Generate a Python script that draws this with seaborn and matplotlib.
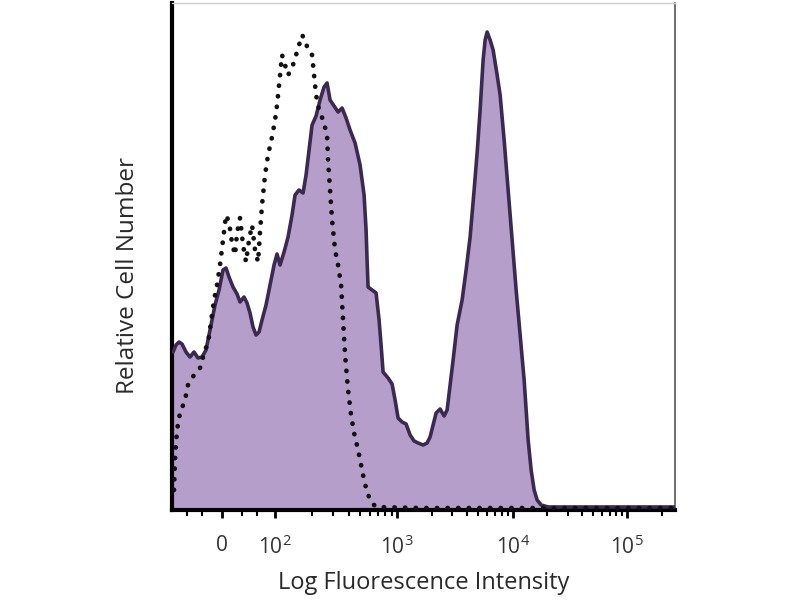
# %% Imports
import numpy as np
import pandas as pd
import matplotlib
matplotlib.use("Agg")
import matplotlib.pyplot as plt
import seaborn as sns

# %% data: histogram, x in display channels (0-1006), y in counts
stained_channel = [2, 8, 14, 20, 28, 36, 44, 52, 60, 68,
                   74, 80, 86, 94, 102, 108, 114, 122, 130, 136,
                   144, 150, 156, 162, 168, 174, 180, 188, 196, 204,
                   210, 216, 224, 232, 240, 246, 254, 262, 268, 274,
                   280, 288, 296, 304, 310, 316, 324, 332, 340, 348,
                   356, 366, 376, 384, 388, 390, 392, 400, 408, 414,
                   418, 422, 432, 440, 446, 452, 460, 468, 476, 484,
                   492, 502, 510, 516, 522, 528, 536, 544, 550, 556,
                   562, 570, 580, 588, 596, 604, 610, 616, 622, 626,
                   630, 636, 642, 650, 656, 664, 672, 680, 688, 696,
                   704, 712, 718, 724, 730, 738, 752, 856, 1004]
stained_count = [158, 165, 168, 166, 158, 153, 158, 152, 153, 160,
                 175, 190, 205, 220, 240, 242, 233, 223, 216, 208,
                 213, 207, 197, 183, 175, 178, 190, 205, 225, 245,
                 256, 245, 258, 273, 295, 315, 320, 317, 335, 360,
                 385, 394, 410, 423, 427, 410, 404, 398, 402, 392,
                 380, 367, 345, 315, 280, 250, 223, 220, 217, 190,
                 165, 138, 132, 126, 110, 92, 88, 86, 75, 69,
                 67, 65, 67, 73, 85, 97, 101, 94, 100, 125,
                 150, 185, 210, 240, 273, 320, 357, 400, 450, 470,
                 478, 470, 460, 435, 415, 370, 320, 270, 220, 175,
                 130, 70, 40, 20, 10, 5, 3, 3, 3]

control_channel = [4, 6, 10, 16, 26, 32, 44, 56, 66, 72,
                   78, 84, 90, 96, 102, 108, 114, 120, 126, 130,
                   136, 142, 148, 154, 160, 166, 172, 176, 180, 186,
                   192, 200, 206, 210, 214, 220, 226, 232, 240, 248,
                   254, 260, 266, 272, 280, 284, 288, 294, 302, 310,
                   312, 316, 320, 326, 332, 338, 342, 346, 352, 358,
                   364, 372, 378, 384, 390, 398, 408, 496, 1004]
control_count = [20, 50, 80, 97, 110, 125, 135, 142, 160, 167,
                 188, 210, 225, 245, 270, 295, 288, 267, 255, 277,
                 292, 265, 248, 270, 285, 260, 248, 278, 305, 335,
                 355, 373, 390, 405, 425, 455, 445, 435, 442, 455,
                 465, 475, 470, 460, 455, 435, 415, 400, 390, 375,
                 350, 320, 290, 260, 245, 225, 190, 155, 120, 95,
                 77, 60, 45, 30, 18, 8, 3, 2, 2]

tick_labels = ["0", "$10^2$", "$10^3$", "$10^4$", "$10^5$"]
tick_channels = [100, 206, 450, 682, 910]

stained = pd.DataFrame({"channel": stained_channel, "count": stained_count})
control = pd.DataFrame({"channel": control_channel, "count": control_count})

# %% plot
sns.set_theme(style="white")
plt.rcParams["font.family"] = ["Open Sans", "DejaVu Sans"]
plt.rcParams["mathtext.fontset"] = "custom"
plt.rcParams["mathtext.rm"] = "Open Sans"
plt.rcParams["mathtext.it"] = "Open Sans"

fig = plt.figure(figsize=(8, 6), dpi=100)
ax = fig.add_axes([0.215, 0.15, 0.629, 0.845])

ax.fill_between(stained["channel"], stained["count"], color="#b59ec9", lw=0, zorder=1)
sns.lineplot(data=stained, x="channel", y="count", ax=ax, color="#3a2950",
             lw=2.6, sort=False, zorder=3)
sns.lineplot(data=control, x="channel", y="count", ax=ax, color="#111111",
             lw=3.4, sort=False, zorder=4,
             linestyle=(0, (0.05, 2.2)), dash_capstyle="round")

ax.set_xlim(0, 1006)
ax.set_ylim(0, 507)

# minor ticks on the log part of the axis
minor = []
for c_lo, c_hi in [(206, 450), (450, 682), (682, 910)]:
    for m in range(2, 10):
        minor.append(c_lo + (c_hi - c_lo) * np.log10(m))
minor += [30, 60, 140, 170, 910 + 228 * np.log10(2)]

ax.set_xticks(tick_channels)
ax.set_xticklabels(tick_labels, fontsize=15, color="#333333")
ax.set_xticks(minor, minor=True)
ax.set_yticks([])
ax.tick_params(axis="x", which="major", direction="out", length=6, width=2,
               color="black", pad=12, bottom=True)
ax.tick_params(axis="x", which="minor", direction="out", length=4, width=1.5,
               color="black", bottom=True)

for side in ["left", "bottom"]:
    ax.spines[side].set_color("black")
    ax.spines[side].set_linewidth(3)
ax.spines["top"].set_color("#cccccc")
ax.spines["top"].set_linewidth(1)
ax.spines["right"].set_color("#555555")
ax.spines["right"].set_linewidth(1.2)

ax.set_xlabel("Log Fluorescence Intensity", fontsize=17, color="#2a2a2a", labelpad=9)
ax.set_ylabel("Relative Cell Number", fontsize=17.5, color="#2a2a2a")
ax.yaxis.set_label_coords(-0.064, 0.462)

fig.savefig("out.png", dpi=100)
